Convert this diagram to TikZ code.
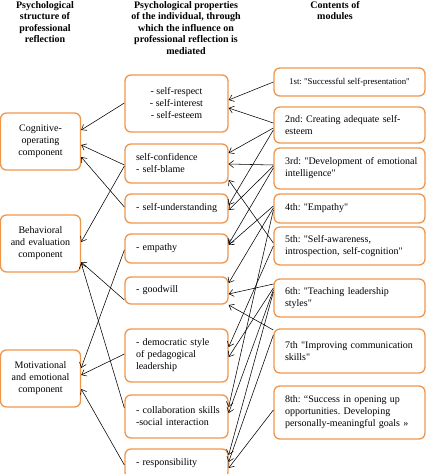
\documentclass[tikz,border=0pt]{standalone}
\usepackage{fontspec}
\setmainfont{Liberation Serif}[Ligatures=TeXOff]
\usetikzlibrary{arrows.meta}
\definecolor{boxorange}{RGB}{240,150,75}
\frenchspacing

\begin{document}
\begin{tikzpicture}[x=1pt,y=-1pt,
  box/.style={draw=boxorange, line width=1.3pt, rounded corners=6pt, inner sep=0pt,
    font=\fontsize{10}{12}\selectfont},
  leftbox/.style={box, minimum width=80pt, text width=78pt, align=center},
  midbox/.style={box, minimum width=103pt, text width=81pt, align=left},
  modbox/.style={box, minimum width=151pt, text width=129pt, align=left},
  arr/.style={-{Straight Barb[length=4.5pt,width=7pt]}, line width=0.55pt},
  head/.style={font=\fontsize{10}{11.5}\selectfont\bfseries, align=center, inner sep=0pt, anchor=north}
]
\useasboundingbox (0,0) rectangle (429,474);

% column headings
\node[head] (h1) at (45,1) {Psychological\\structure of\\professional\\reflection};
\node[head] (h2) at (186,1) {Psychological properties\\of the individual, through\\which the influence on\\professional reflection is\\mediated};
\node[head] (h3) at (335,1) {Contents of\\modules};

% components of professional reflection
\node[leftbox, minimum height=57pt] (cog) at (40.5,141.5) {Cognitive-\\operating\\component};
\node[leftbox, minimum height=57pt] (beh) at (40.5,243.5) {Behavioral\\and evaluation\\component};
\node[leftbox, minimum height=57pt] (mot) at (40.5,378.5) {Motivational\\and emotional\\component};

% psychological properties
\node[box, minimum width=103pt, minimum height=57pt, align=center] (resp) at (176.5,103.5) {- self-respect\\- self-interest\\- self-esteem};
\node[midbox, minimum height=39pt] (conf) at (176.5,163.5) {self-confidence\\- self-blame};
\node[midbox, minimum height=29pt] (und) at (176.5,208.5) {\mbox{- self-understanding}};
\node[midbox, minimum height=29pt] (emp) at (176.5,248.5) {- empathy};
\node[midbox, minimum height=27pt] (good) at (176.5,290.5) {- goodwill};
\node[midbox, minimum height=53pt] (dem) at (176.5,355.5) {- democratic style\\of pedagogical\\leadership};
\node[midbox, minimum height=43pt] (coll) at (176.5,416.5) {\mbox{- collaboration skills}\\-social interaction};
\node[midbox, minimum height=29pt] (respo) at (176.5,463.5) {- responsibility};

% training modules
\node[box, minimum width=151pt, minimum height=28pt, align=center, font=\fontsize{8.8}{10}\selectfont] (m1) at (349.5,82) {1st: "Successful self-presentation"};
\node[modbox, minimum height=36pt] (m2) at (349.5,125) {2nd: Creating adequate self-\\esteem};
\node[modbox, minimum height=41pt] (m3) at (349.5,168.5) {\mbox{3rd: "Development of emotional}\\intelligence"};
\node[modbox, minimum height=29pt] (m4) at (349.5,208.5) {4th: "Empathy"};
\node[modbox, minimum height=38pt] (m5) at (349.5,246) {5th: "Self-awareness,\\\mbox{introspection, self-cognition"}};
\node[modbox, minimum height=38pt] (m6) at (349.5,298) {6th: "Teaching leadership\\styles"};
\node[modbox, minimum height=44pt] (m7) at (349.5,351) {\mbox{7th "Improving communication}\\skills"};
\node[modbox, minimum height=53pt] (m8) at (349.5,412.5) {8th: “Success in opening up\\opportunities. Developing\\\mbox{personally-meaningful goals »}};

% properties -> components
\draw[arr] ([yshift=0.5pt]resp.west) -- ([yshift=11.5pt]cog.east);
\draw[arr] ([yshift=-1.5pt]conf.west) -- ([yshift=-3.5pt]cog.east);
\draw[arr] ([yshift=1.5pt]und.west) -- ([yshift=-15.5pt]cog.east);
\draw[arr] ([yshift=-2.5pt]conf.west) -- ([yshift=1.5pt]beh.east);
\draw[arr] ([yshift=-9.5pt]good.west) -- ([yshift=-18.5pt]beh.east);
\draw[arr] ([yshift=8.5pt]coll.west) -- ([yshift=-19.5pt]beh.east);
\draw[arr] ([yshift=-1.5pt]emp.west) -- ([yshift=10.5pt]mot.east);
\draw[arr] ([yshift=1.5pt]dem.west) -- ([yshift=3.5pt]mot.east);
\draw[arr] ([yshift=-1.5pt]respo.west) -- ([yshift=-10.5pt]mot.east);

% modules -> properties
\draw[arr] (m1.west) -- ([yshift=3.5pt]resp.east);
\draw[arr] ([yshift=2pt]m2.west) -- ([yshift=-4.5pt]resp.east);
\draw[arr] ([yshift=-3pt]m2.west) -- ([yshift=10.5pt]conf.east);
\draw[arr] ([yshift=-5pt]m2.west) -- ([yshift=3.5pt]und.east);
\draw[arr] ([yshift=3.5pt]m3.west) -- ([yshift=-0.5pt]conf.east);
\draw[arr] ([yshift=2.5pt]m3.west) -- ([yshift=-1.5pt]und.east);
\draw[arr] ([yshift=0.5pt]m3.west) -- ([yshift=4.5pt]emp.east);
\draw[arr] ([yshift=2.5pt]m4.west) -- ([yshift=3.5pt]emp.east);
\draw[arr] ([yshift=0.5pt]m4.west) -- ([yshift=7.5pt]good.east);
\draw[arr] ([yshift=-1.5pt]m4.west) -- ([yshift=9.5pt]coll.east);
\draw[arr] ([yshift=3pt]m5.west) -- ([yshift=-16.5pt]conf.east);
\draw[arr] (m5.west) -- ([yshift=8.5pt]dem.east);
\draw[arr] ([yshift=14pt]m6.west) -- ([yshift=-3.5pt]good.east);
\draw[arr] ([yshift=10pt]m6.west) -- ([yshift=-1.5pt]dem.east);
\draw[arr] ([yshift=8pt]m6.west) -- ([yshift=3.5pt]coll.east);
\draw[arr] ([yshift=6pt]m6.west) -- ([yshift=8.5pt]respo.east);
\draw[arr] ([yshift=21pt]m7.west) -- ([yshift=-14.5pt]good.east);
\draw[arr] ([yshift=16pt]m7.west) -- ([yshift=1.5pt]respo.east);
\draw[arr] ([yshift=2.5pt]m8.west) -- ([yshift=-4.5pt]respo.east);
\end{tikzpicture}
\end{document}
